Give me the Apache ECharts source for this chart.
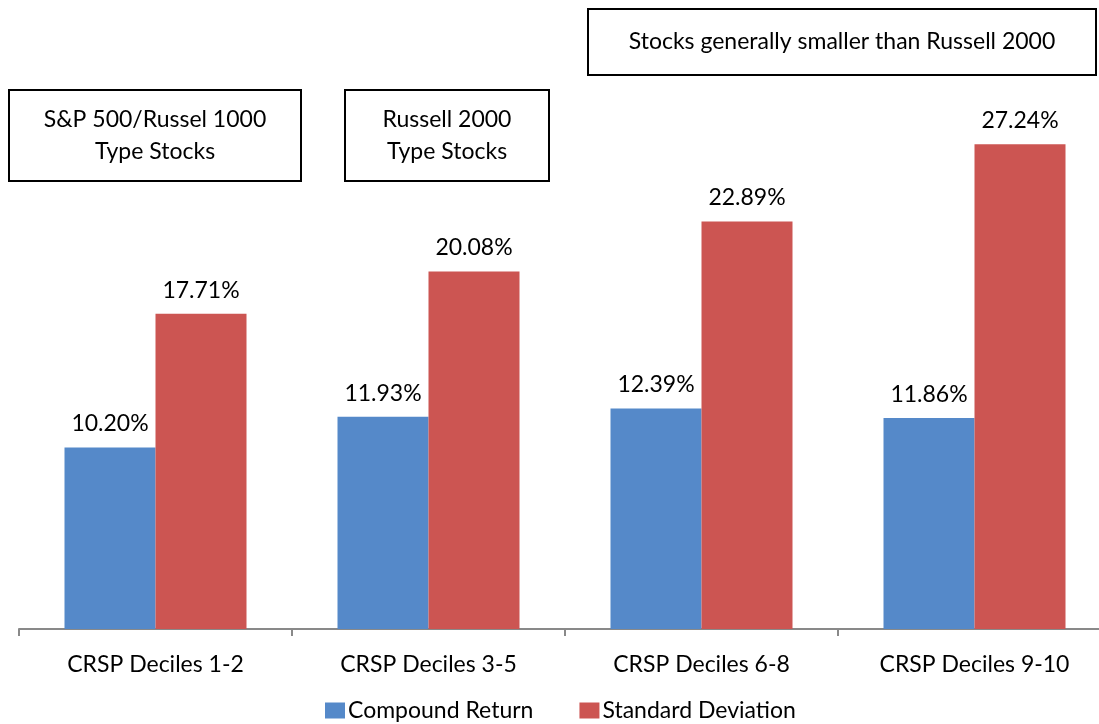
<!DOCTYPE html>
<html>
<head>
<meta charset="utf-8">
<script src="https://cdn.jsdelivr.net/npm/echarts@6/dist/echarts.min.js"></script>
<style>html,body{margin:0;padding:0;background:#fff;overflow:hidden}#c{width:1111px;height:724px}</style>
</head>
<body>
<div id="c"></div>
<script>
const categories = ['CRSP Deciles 1-2', 'CRSP Deciles 3-5', 'CRSP Deciles 6-8', 'CRSP Deciles 9-10'];
const compoundReturn = [10.20, 11.93, 12.39, 11.86];
const standardDeviation = [17.71, 20.08, 22.89, 27.24];
const seriesNames = ['Compound Return', 'Standard Deviation'];
const boxTexts = ['S&P 500/Russel 1000\nType Stocks', 'Russell 2000\nType Stocks', 'Stocks generally smaller than Russell 2000'];

const FONT = 'Lato';
const FS = 23;
const chart = echarts.init(document.getElementById('c'));
function box(x, y, w, h, text) {
  return {
    type: 'group', left: x, top: y,
    children: [
      { type: 'rect', shape: { x: 0, y: 0, width: w, height: h }, style: { fill: '#fff', stroke: '#000', lineWidth: 2 } },
      { type: 'text', x: w / 2, y: h / 2, style: { text: text, fontFamily: FONT, fontSize: FS, fill: '#000', align: 'center', verticalAlign: 'middle', lineHeight: 32 } }
    ]
  };
}
const labelStyle = { show: true, position: 'top', distance: 12, fontFamily: FONT, fontSize: FS, color: '#000', formatter: p => p.value.toFixed(2) + '%' };
chart.setOption({
  animation: false,
  grid: { left: 19, top: 95, right: 0, height: 534 },
  legend: {
    bottom: 2, left: 325, padding: 0, itemWidth: 20, itemHeight: 16, itemGap: 46, icon: 'rect',
    textStyle: { fontFamily: FONT, fontSize: FS, color: '#000', padding: [0, 0, 0, -2] },
    data: seriesNames
  },
  xAxis: {
    type: 'category', data: categories,
    axisLine: { lineStyle: { color: '#898989', width: 2 } },
    axisTick: { show: true, length: 7, lineStyle: { color: '#898989', width: 2 } },
    axisLabel: { fontFamily: FONT, fontSize: FS, color: '#000', margin: 24 }
  },
  yAxis: { type: 'value', min: 0, max: 30, show: false, splitLine: { show: false } },
  series: [
    { name: seriesNames[0], type: 'bar', data: compoundReturn, barWidth: 91, barGap: '0%', itemStyle: { color: '#5589C9' }, label: labelStyle },
    { name: seriesNames[1], type: 'bar', data: standardDeviation, barWidth: 91, itemStyle: { color: '#CC5552' }, label: labelStyle }
  ],
  graphic: [
    box(8, 89, 292, 91, boxTexts[0]),
    box(344, 89, 204, 91, boxTexts[1]),
    box(587, 8, 508, 66, boxTexts[2])
  ]
});
</script>
</body>
</html>
